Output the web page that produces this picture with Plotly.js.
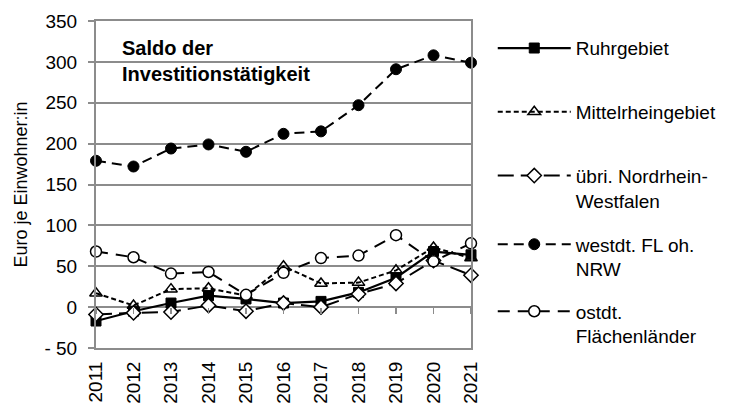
<!DOCTYPE html>
<html><head><meta charset="utf-8">
<script src="https://cdn.plot.ly/plotly-3.0.1.min.js"></script>
<style>html,body{margin:0;padding:0;background:#fff}#c{width:734px;height:405px}</style>
</head><body><div id="c"></div>
<script>
const years = [2011,2012,2013,2014,2015,2016,2017,2018,2019,2020,2021];
const yearLabels = years.map(String);
const ruhrgebiet = [-17,-5,5,14,10,5,7,18,36,68,64];
const mittelrhein = [17,2,22,23,14,50,29,30,45,73,60];
const uebriNRW = [-9,-7,-6,2,-5,5,0,16,29,57,39];
const westdtFL = [179,172,194,199,190,212,215,247,291,308,299];
const ostdtFL = [68,61,41,43,15,42,60,63,88,56,78];
const names = ['Ruhrgebiet','Mittelrheingebiet','übri. Nordrhein-<br>Westfalen','westdt. FL oh.<br>NRW','ostdt.<br>Flächenländer'];
const yTickVals = [-50,0,50,100,150,200,250,300,350];
const yTickText = ['- 50','0','50','100','150','200','250','300','350'];

const FONT = 'Liberation Sans, Arial, sans-serif';
const FS = 19;
const traces = [
  {y: ruhrgebiet, name: names[0], legend:'legend', line:{color:'#000',width:2.2,dash:'solid'},
   marker:{symbol:'square',size:10,color:'#000',line:{color:'#000',width:1}}},
  {y: mittelrhein, name: names[1], legend:'legend2', line:{color:'#000',width:2,dash:'5px,3px'},
   marker:{symbol:'triangle-up-open',size:11,color:'#000',line:{width:1.5}}},
  {y: uebriNRW, name: names[2], legend:'legend3', line:{color:'#000',width:2,dash:'16px,7px'},
   marker:{symbol:'diamond',size:11,color:'#fff',line:{color:'#000',width:1.5}}},
  {y: westdtFL, name: names[3], legend:'legend4', line:{color:'#000',width:2,dash:'10px,6px'},
   marker:{symbol:'circle',size:11,color:'#000',line:{color:'#000',width:1}}},
  {y: ostdtFL, name: names[4], legend:'legend5', line:{color:'#000',width:2,dash:'12px,8px'},
   marker:{symbol:'circle',size:11,color:'#fff',line:{color:'#000',width:1.5}}}
].map(t => Object.assign({type:'scatter', mode:'lines+markers', x: years, cliponaxis:false}, t));

// invisible helper trace so the zero-line category axis (tick marks only) is drawn
traces.push({type:'scatter', x:[years[0]], y:[0], xaxis:'x2', mode:'none', showlegend:false, hoverinfo:'skip'});

function leg(y){
  return {x:1.058, y:y, xanchor:'left', yanchor:'top', valign:'top', itemwidth:73,
    font:{family:FONT,size:FS,color:'#000'}, bgcolor:'rgba(0,0,0,0)', borderwidth:0};
}
const GRID = '#8c8c8c';
const layout = {
  width:734, height:405,
  margin:{l:96, r:261, t:21, b:57, pad:0},
  paper_bgcolor:'#fff', plot_bgcolor:'#fff',
  font:{family:FONT, size:FS, color:'#000'},
  showlegend:true,
  legend: leg(0.975),
  legend2: leg(0.78),
  legend3: leg(0.585),
  legend4: leg(0.375),
  legend5: leg(0.17),
  xaxis:{type:'linear', range:[2011,2021], tickmode:'array', tickvals:years, ticktext:yearLabels,
    tickangle:-90, showgrid:false, zeroline:false, showline:true, mirror:true, linecolor:GRID, linewidth:2,
    ticks:'', tickfont:{family:FONT,size:FS,color:'#000'}, ticklabelstandoff:4, automargin:false},
  xaxis2:{type:'linear', range:[2011,2021], overlaying:'x', anchor:'free', position:0.125,
    tickmode:'array', tickvals:years, showticklabels:false, ticks:'outside', ticklen:6, tickwidth:1.5,
    tickcolor:GRID, showgrid:false, zeroline:false, showline:false},
  yaxis:{range:[-50,350], tickmode:'array', tickvals:yTickVals, ticktext:yTickText,
    showgrid:true, gridcolor:GRID, gridwidth:2, zeroline:true, zerolinecolor:GRID, zerolinewidth:2,
    showline:true, mirror:true, linecolor:GRID, linewidth:2, ticks:'outside', ticklen:6, tickcolor:GRID, tickwidth:2,
    tickfont:{family:FONT,size:FS,color:'#000'}, ticklabelstandoff:7,
    title:{text:'Euro je Einwohner:in', font:{family:FONT,size:18,color:'#000'}, standoff:12}, automargin:false},
  annotations:[{xref:'paper', yref:'paper', x:0.064, y:0.958, xanchor:'left', yanchor:'top', align:'left',
    showarrow:false, text:'<b>Saldo der<br>Investitionstätigkeit</b>', font:{family:FONT,size:20,color:'#000'}}]
};
Plotly.newPlot('c', traces, layout, {staticPlot:true, displayModeBar:false});
</script></body></html>
